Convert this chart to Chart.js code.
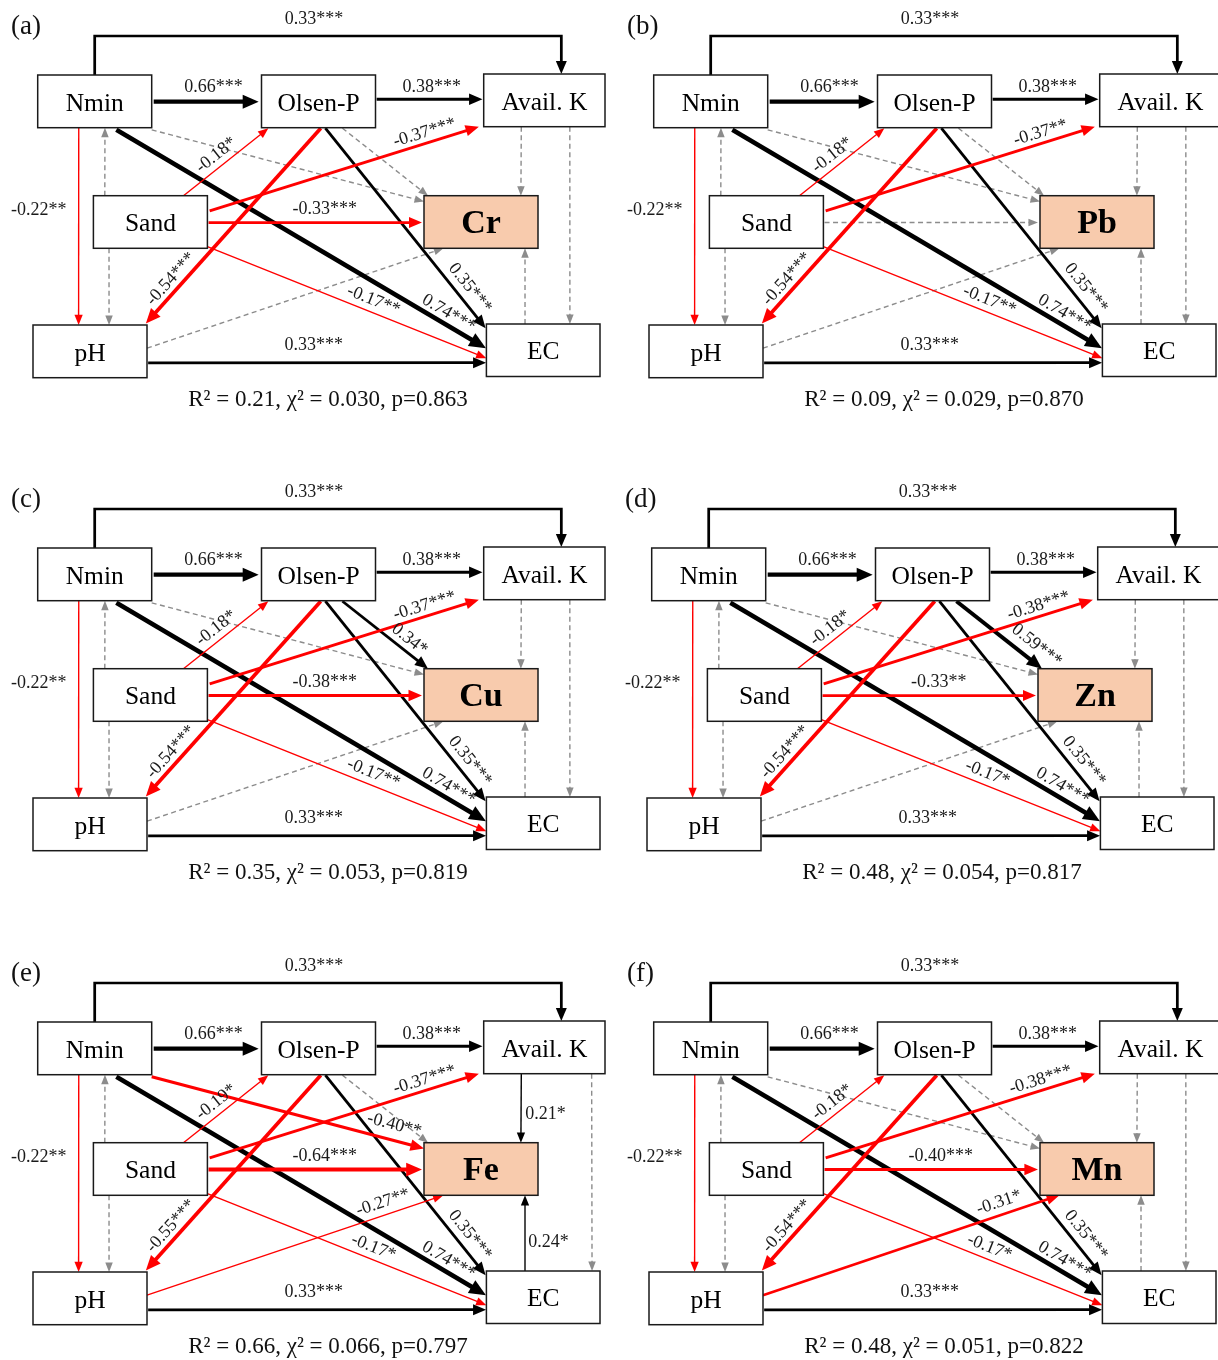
<!DOCTYPE html>
<html>
<head>
<meta charset="utf-8">
<script src="https://cdn.jsdelivr.net/npm/chart.js@4.4.1/dist/chart.umd.min.js"></script>
<style>
  html, body { margin: 0; padding: 0; background: #fff; overflow: hidden; width: 1218px; height: 1360px; }
  .panel { position: absolute; width: 616px; height: 473px; overflow: hidden; }
  .panel canvas { display: block; }
</style>
</head>
<body>
<script>
// ---- Model summary for each heavy metal ----
const panelTags  = ['(a)', '(b)', '(c)', '(d)', '(e)', '(f)'];
const metals     = ['Cr', 'Pb', 'Cu', 'Zn', 'Fe', 'Mn'];
const rSquared   = ['0.21', '0.09', '0.35', '0.48', '0.66', '0.48'];
const chiSquared = ['0.030', '0.029', '0.053', '0.054', '0.066', '0.051'];
const pValues    = ['0.863', '0.870', '0.819', '0.817', '0.797', '0.822'];

// ---- Observed variables ('METAL' stands for the response of each panel) ----
const variables = ['Nmin', 'Olsen-P', 'Avail. K', 'Sand', 'pH', 'EC', 'METAL'];

// ---- Paths: cause -> effect ----
const pathFrom = ['Nmin', 'Nmin', 'Olsen-P', 'Nmin', 'Sand', 'Sand', 'Nmin', 'Sand', 'Olsen-P', 'Olsen-P',
                  'Sand', 'Sand', 'pH', 'Avail. K', 'Nmin', 'Olsen-P', 'Sand', 'pH', 'Avail. K', 'EC'];
const pathTo   = ['Avail. K', 'Olsen-P', 'Avail. K', 'pH', 'Nmin', 'pH', 'EC', 'Olsen-P', 'pH', 'EC',
                  'Avail. K', 'EC', 'EC', 'EC', 'METAL', 'METAL', 'METAL', 'METAL', 'METAL', 'METAL'];

// ---- Standardized path coefficients (null = non-significant) and significance stars ----
const coefCr  = [0.33, 0.66, 0.38, -0.22, null, null, 0.74, -0.18, -0.54, 0.35, -0.37, -0.17, 0.33, null, null, null, -0.33, null, null, null];
const starsCr = [3, 3, 3, 2, 0, 0, 3, 1, 3, 3, 3, 2, 3, 0, 0, 0, 3, 0, 0, 0];
const coefPb  = [0.33, 0.66, 0.38, -0.22, null, null, 0.74, -0.18, -0.54, 0.35, -0.37, -0.17, 0.33, null, null, null, null, null, null, null];
const starsPb = [3, 3, 3, 2, 0, 0, 3, 1, 3, 3, 2, 2, 3, 0, 0, 0, 0, 0, 0, 0];
const coefCu  = [0.33, 0.66, 0.38, -0.22, null, null, 0.74, -0.18, -0.54, 0.35, -0.37, -0.17, 0.33, null, null, 0.34, -0.38, null, null, null];
const starsCu = [3, 3, 3, 2, 0, 0, 3, 1, 3, 3, 3, 2, 3, 0, 0, 1, 3, 0, 0, 0];
const coefZn  = [0.33, 0.66, 0.38, -0.22, null, null, 0.74, -0.18, -0.54, 0.35, -0.38, -0.17, 0.33, null, null, 0.59, -0.33, null, null, null];
const starsZn = [3, 3, 3, 2, 0, 0, 3, 1, 3, 3, 3, 1, 3, 0, 0, 3, 2, 0, 0, 0];
const coefFe  = [0.33, 0.66, 0.38, -0.22, null, null, 0.74, -0.19, -0.55, 0.35, -0.37, -0.17, 0.33, null, -0.40, null, -0.64, -0.27, 0.21, 0.24];
const starsFe = [3, 3, 3, 2, 0, 0, 3, 1, 3, 3, 3, 1, 3, 0, 2, 0, 3, 2, 1, 1];
const coefMn  = [0.33, 0.66, 0.38, -0.22, null, null, 0.74, -0.18, -0.54, 0.35, -0.38, -0.17, 0.33, null, null, null, -0.40, -0.31, null, null];
const starsMn = [3, 3, 3, 2, 0, 0, 3, 1, 3, 3, 3, 1, 3, 0, 0, 0, 3, 1, 0, 0];

const panelCoefs = [coefCr, coefPb, coefCu, coefZn, coefFe, coefMn];
const panelStars = [starsCr, starsPb, starsCu, starsZn, starsFe, starsMn];

// ================= Layout (diagram units) =================
const panelLeft = [0, 616, 0, 614, 0, 616];
const panelTop  = [0, 0, 473, 473, 947, 947];
const PANEL_W = 616, PANEL_H = 473;

// node boxes: left, top, width, height
const boxes = {
  'Nmin':     [37.7, 75, 114, 52.7],
  'Olsen-P':  [261.5, 75, 114, 52.7],
  'Avail. K': [483.7, 74, 121.3, 52.7],
  'Sand':     [93.4, 195.7, 114, 52.6],
  'METAL':    [424, 195.7, 114, 52.6],
  'pH':       [33, 325, 114, 52.7],
  'EC':       [486.4, 324, 113.6, 52.5]
};

// anchor points of each path on its boxes: [fromFx, fromFy, toFx, toFy] (fractions of box size)
const anchors = [
  [0.5, 0, 0.64, 0],          // elbow over the top
  [1.0175, 0.507, -0.025, 0.507],
  [1.01, 0.46, -0.01, 0.48],
  [0.36, 1, 0.40, 0],
  [0.10, 0, 0.59, 1],
  [0.137, 1, 0.667, 0],
  [0.69, 1.04, -0.004, 0.46],
  [0.79, 0, 0.06, 1.01],
  [0.52, 1.01, 0.99, -0.03],
  [0.56, 1.01, -0.007, 0.08],
  [1.02, 0.29, -0.04, 1.0],
  [1.0, 0.97, 0, 0.65],
  [1.01, 0.72, -0.003, 0.737],
  [0.71, 1, 0.735, 0],
  [1.0, 1.04, 0, 0.11],
  [0.71, 1.01, 0.035, 0],
  [1.01, 0.51, -0.018, 0.51],
  [1.0, 0.44, 0.17, 1],
  [0.31, 1, 0.85, 0],
  [0.34, 0, 0.886, 1]
];
const elbowLevel = 36;
// panel-specific anchor changes
const anchorOverride = { 4: { 13: [0.89, 1, 0.93, 0] } };

// coefficient label placement: [t along path, perpendicular offset, rotate with path]
const labelPlace = [
  [0.47, 17, false],
  [0.57, 14, false],
  [0.52, 12.5, false],
  [0.42, -40, false],
  [0.5, 0, false],
  [0.5, 0, false],
  [0.884, 11, true],
  [0.47, 11.5, true],
  [0.81, -11, true],
  [0.84, 13, true],
  [0.81, 10.6, true],
  [0.58, 11.8, true],
  [0.49, 18, false],
  [0.5, 0, false],
  [0.877, 15.3, true],
  [0.70, 11.6, true],
  [0.545, 13.5, false],
  [0.81, 12.5, true],
  [0.58, 24.5, false],
  [0.375, -23.5, false]
];
const labelOverride = { 3: { 15: [0.83, 15, true] } };

const RED = '#ff0000', BLACK = '#000000', GREY = '#8c8c8c';
const SERIF = '"Liberation Serif", "Times New Roman", serif';

function lineWidthFor(v) {
  const a = Math.abs(v);
  return a < 0.3 ? 1.4 : 2.6 + (a - 0.3) * 4.5;
}
function coefText(v, s) {
  return (v < 0 ? '-' : '') + Math.abs(v).toFixed(2) + '*'.repeat(s);
}

function drawArrow(ctx, pts, w, color, dashed) {
  const n = pts.length;
  const [bx, by] = pts[n - 1], [ax, ay] = pts[n - 2];
  const dx = bx - ax, dy = by - ay, len = Math.hypot(dx, dy);
  const ux = dx / len, uy = dy / len;
  const hl = dashed ? 9.5 : 7.5 + 2 * w;
  const hw = (dashed ? 7.5 : 5.5 + 2 * w) / 2;
  ctx.save();
  ctx.strokeStyle = color;
  ctx.lineWidth = w;
  ctx.lineJoin = 'miter';
  ctx.setLineDash(dashed ? [5, 3.5] : []);
  ctx.beginPath();
  ctx.moveTo(pts[0][0], pts[0][1]);
  for (let i = 1; i < n - 1; i++) ctx.lineTo(pts[i][0], pts[i][1]);
  ctx.lineTo(bx - ux * hl * 0.85, by - uy * hl * 0.85);
  ctx.stroke();
  ctx.setLineDash([]);
  ctx.fillStyle = color;
  ctx.beginPath();
  ctx.moveTo(bx, by);
  ctx.lineTo(bx - ux * hl - uy * hw, by - uy * hl + ux * hw);
  ctx.lineTo(bx - ux * hl + uy * hw, by - uy * hl - ux * hw);
  ctx.closePath();
  ctx.fill();
  ctx.restore();
}

const pathDiagram = {
  id: 'pathDiagram',
  afterDraw(chart, args, opts) {
    const p = opts.panel;
    const ctx = chart.ctx;
    const xs = chart.scales.x, ys = chart.scales.y;
    const X = v => xs.getPixelForValue(v);
    const Y = v => ys.getPixelForValue(v);
    const coefs = panelCoefs[p], stars = panelStars[p];

    const anchorPt = (name, fx, fy) => {
      const b = boxes[name];
      return [X(b[0] + fx * b[2]), Y(b[1] + fy * b[3])];
    };
    const geometry = i => {
      const a = (anchorOverride[p] && anchorOverride[p][i]) || anchors[i];
      const s = anchorPt(pathFrom[i], a[0], a[1]);
      const e = anchorPt(pathTo[i], a[2], a[3]);
      if (i === 0) return [s, [s[0], Y(elbowLevel)], [e[0], Y(elbowLevel)], e];
      return [s, e];
    };

    ctx.save();
    // non-significant paths first, then black, then red
    const order = [];
    coefs.forEach((v, i) => { if (v === null) order.push(i); });
    coefs.forEach((v, i) => { if (v !== null && v > 0) order.push(i); });
    coefs.forEach((v, i) => { if (v !== null && v < 0) order.push(i); });
    order.forEach(i => {
      const v = coefs[i];
      const pts = geometry(i);
      if (v === null) drawArrow(ctx, pts, 1.4, GREY, true);
      else drawArrow(ctx, pts, lineWidthFor(v), v < 0 ? RED : BLACK, false);
    });

    // variable boxes
    variables.forEach(name => {
      const b = boxes[name];
      const x0 = X(b[0]), y0 = Y(b[1]), x1 = X(b[0] + b[2]), y1 = Y(b[1] + b[3]);
      ctx.fillStyle = name === 'METAL' ? '#f8cbad' : '#ffffff';
      ctx.fillRect(x0, y0, x1 - x0, y1 - y0);
      ctx.strokeStyle = '#1a1a1a';
      ctx.lineWidth = 1.5;
      ctx.strokeRect(x0, y0, x1 - x0, y1 - y0);
      ctx.fillStyle = '#000';
      ctx.textAlign = 'center';
      ctx.textBaseline = 'middle';
      if (name === 'METAL') {
        ctx.font = 'bold 34px ' + SERIF;
        ctx.fillText(metals[p], (x0 + x1) / 2, (y0 + y1) / 2 + 2);
      } else {
        ctx.font = '25.5px ' + SERIF;
        ctx.fillText(name, (x0 + x1) / 2, (y0 + y1) / 2 + 2.5);
      }
    });

    // coefficient labels
    ctx.font = '18px ' + SERIF;
    ctx.fillStyle = '#1a1a1a';
    ctx.textAlign = 'center';
    ctx.textBaseline = 'middle';
    coefs.forEach((v, i) => {
      if (v === null) return;
      const lp = (labelOverride[p] && labelOverride[p][i]) || labelPlace[i];
      let pts = geometry(i);
      if (i === 0) pts = [pts[1], pts[2]];
      const [s, e] = [pts[0], pts[pts.length - 1]];
      const dx = e[0] - s[0], dy = e[1] - s[1], len = Math.hypot(dx, dy);
      const ux = dx / len, uy = dy / len;
      const nx = uy, ny = -ux;
      const cx = s[0] + dx * lp[0] + nx * lp[1];
      const cy = s[1] + dy * lp[0] + ny * lp[1];
      let ang = Math.atan2(dy, dx);
      if (ang > Math.PI / 2) ang -= Math.PI;
      if (ang < -Math.PI / 2) ang += Math.PI;
      ctx.save();
      ctx.translate(cx, cy);
      if (lp[2]) ctx.rotate(ang);
      ctx.fillText(coefText(v, stars[i]), 0, 0);
      ctx.restore();
    });

    // panel tag and fit statistics
    ctx.fillStyle = '#111';
    ctx.font = '27px ' + SERIF;
    ctx.textAlign = 'left';
    ctx.fillText(panelTags[p], X(11), Y(27));
    ctx.font = '23px ' + SERIF;
    ctx.textAlign = 'center';
    ctx.fillText('R\u00B2 = ' + rSquared[p] + ', \u03C7\u00B2 = ' + chiSquared[p] + ', p=' + pValues[p], X(328), Y(400));
    ctx.restore();
  }
};

panelTags.forEach((tag, p) => {
  const div = document.createElement('div');
  div.className = 'panel';
  div.style.left = panelLeft[p] + 'px';
  div.style.top = panelTop[p] + 'px';
  const cv = document.createElement('canvas');
  cv.width = PANEL_W; cv.height = PANEL_H;
  cv.style.width = PANEL_W + 'px'; cv.style.height = PANEL_H + 'px';
  div.appendChild(cv);
  document.body.appendChild(div);

  const nodeCentres = variables.map(v => {
    const b = boxes[v];
    return { x: b[0] + b[2] / 2, y: b[1] + b[3] / 2 };
  });

  new Chart(cv.getContext('2d'), {
    type: 'scatter',
    data: { datasets: [{ data: nodeCentres, pointRadius: 0, pointHoverRadius: 0 }] },
    options: {
      responsive: false,
      animation: false,
      events: [],
      layout: { padding: 0 },
      scales: {
        x: { type: 'linear', min: 0, max: PANEL_W, display: false },
        y: { type: 'linear', min: 0, max: PANEL_H, reverse: true, display: false }
      },
      plugins: {
        legend: { display: false },
        tooltip: { enabled: false },
        pathDiagram: { panel: p }
      }
    },
    plugins: [pathDiagram]
  });
});
</script>
</body>
</html>
